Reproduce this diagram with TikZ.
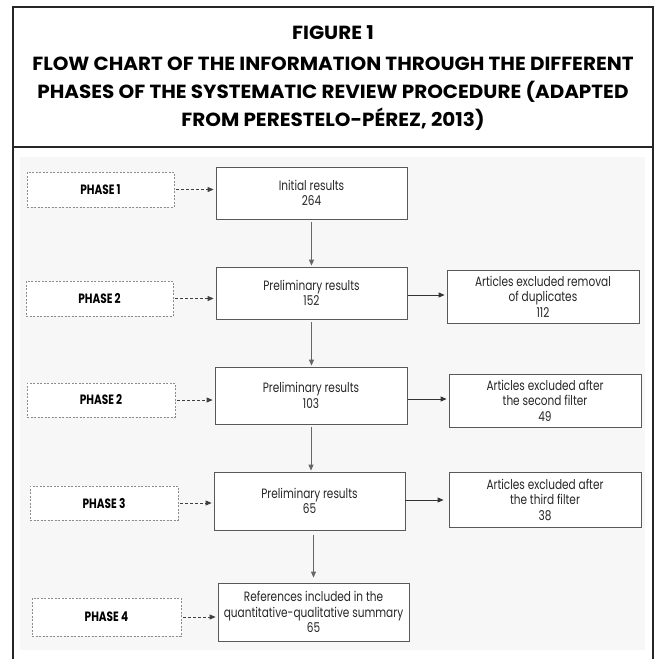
\documentclass[tikz,border=0pt]{standalone}
\usepackage{fontspec}
\setmainfont{Poppins}
\newfontfamily\titlefont[FakeStretch=1.05]{Poppins}
\newfontfamily\bodyfont[FakeStretch=0.78]{Poppins}
\usetikzlibrary{arrows.meta,calc}
\begin{document}
\begin{tikzpicture}[x=1pt,y=-1pt,
  frame/.style={draw=black!85,line width=2.5pt},
  titleline/.style={anchor=base,inner sep=0pt,font=\titlefont\bfseries\fontsize{19}{21}\selectfont},
  solidbox/.style={draw=black!65,line width=0.8pt,fill=white,inner sep=0pt,align=center,
    text=black!85,font=\bodyfont\fontsize{13.5}{15.5}\selectfont},
  phasebox/.style={draw=black!45,line width=0.7pt,dashed,dash pattern=on 2pt off 1.5pt,fill=white,inner sep=0pt,
    align=center,font=\bodyfont\bfseries\fontsize{13.5}{15.5}\selectfont},
  flow/.style={draw=black!60,line width=0.9pt,-{Triangle[length=6pt,width=5pt]}},
  side/.style={draw=black!80,line width=0.9pt,-{Triangle[length=6pt,width=5pt]}},
  dflow/.style={draw=black!75,line width=0.8pt,dash pattern=on 3pt off 2pt,-{Triangle[length=6pt,width=5pt]}}
]
\useasboundingbox (0,0) rectangle (657,659);
\fill[white] (0,0) rectangle (657,659);
% body background
\fill[black!3] (20,157) rectangle (645,650);
% frame
\draw[frame] (13,662) -- (13,7) -- (653,7) -- (653,662);
\draw[frame] (13,147) -- (653,147);
% title
\node[titleline] (t1) at (333,39.3) {FIGURE 1};
\node[titleline] (t2) at (333,70.7) {FLOW CHART OF THE INFORMATION THROUGH THE DIFFERENT};
\node[titleline] (t3) at (333,98.3) {PHASES OF THE SYSTEMATIC REVIEW PROCEDURE (ADAPTED};
\node[titleline] (t4) at (333,126) {FROM PERESTELO-PÉREZ, 2013)};
% result boxes
\node[solidbox,minimum width=191pt,minimum height=52pt] (r1) at (311.5,193) {Initial results\\264};
\node[solidbox,minimum width=191pt,minimum height=52pt] (r2) at (311.5,293) {Preliminary results\\152};
\node[solidbox,minimum width=192pt,minimum height=57pt] (r3) at (311,395.5) {Preliminary results\\103};
\node[solidbox,minimum width=191pt,minimum height=58pt] (r4) at (309.5,501) {Preliminary results\\65};
\node[solidbox,minimum width=191pt,minimum height=58pt] (r5) at (313.5,612) {References included in the\\quantitative-qualitative summary\\65};
% excluded boxes
\node[solidbox,minimum width=192pt,minimum height=53pt] (e1) at (543,296.5) {Articles excluded removal\\of duplicates\\112};
\node[solidbox,minimum width=192pt,minimum height=53pt] (e2) at (545,400.5) {Articles excluded after\\the second filter\\49};
\node[solidbox,minimum width=192pt,minimum height=55pt] (e3) at (545,499.5) {Articles excluded after\\the third filter\\38};
% phase boxes
\node[phasebox,minimum width=147pt,minimum height=35pt] (p1) at (100.5,189.5) {PHASE 1};
\node[phasebox,minimum width=147pt,minimum height=35pt] (p2a) at (99.5,298.5) {PHASE 2};
\node[phasebox,minimum width=148pt,minimum height=34pt] (p2b) at (101,400) {PHASE 2};
\node[phasebox,minimum width=148pt,minimum height=34pt] (p3) at (104,503) {PHASE 3};
\node[phasebox,minimum width=149pt,minimum height=38pt] (p4) at (106.5,617) {PHASE 4};
% vertical flow
\draw[flow,shorten <=3pt,shorten >=1pt] (r1.south) -- (r1.south |- r2.north);
\draw[flow,shorten <=3pt,shorten >=1pt] (r2.south) -- (r2.south |- r3.north);
\draw[flow,shorten <=3pt,shorten >=1pt] (r3.south) -- (r3.south |- r4.north);
\draw[flow,shorten <=5pt,shorten >=5pt] (r5.north |- r4.south) -- (r5.north);
% side arrows
\draw[side,shorten <=1pt,shorten >=2pt] ($(r2.east)+(0,2)$) -- ($(r2.east -| e1.west)+(0,2)$);
\draw[side,shorten <=1pt,shorten >=2pt] ($(r3.east)+(0,3.5)$) -- ($(r3.east -| e2.west)+(0,3.5)$);
\draw[side,shorten <=0pt,shorten >=5pt] ($(r4.east)+(0,-1)$) -- ($(r4.east -| e3.west)+(0,-1)$);
% dashed arrows
\draw[dflow,shorten <=2pt,shorten >=2pt] (p1.east) -- (p1.east -| r1.west);
\draw[dflow,shorten <=2pt,shorten >=2pt] (p2a.east) -- (p2a.east -| r2.west);
\draw[dflow,shorten <=2pt,shorten >=2pt] (p2b.east) -- (p2b.east -| r3.west);
\draw[dflow,shorten <=2pt,shorten >=2pt] (p3.east) -- (p3.east -| r4.west);
\draw[dflow,shorten <=2pt,shorten >=2pt] (p4.east) -- (p4.east -| r5.west);
\end{tikzpicture}
\end{document}
